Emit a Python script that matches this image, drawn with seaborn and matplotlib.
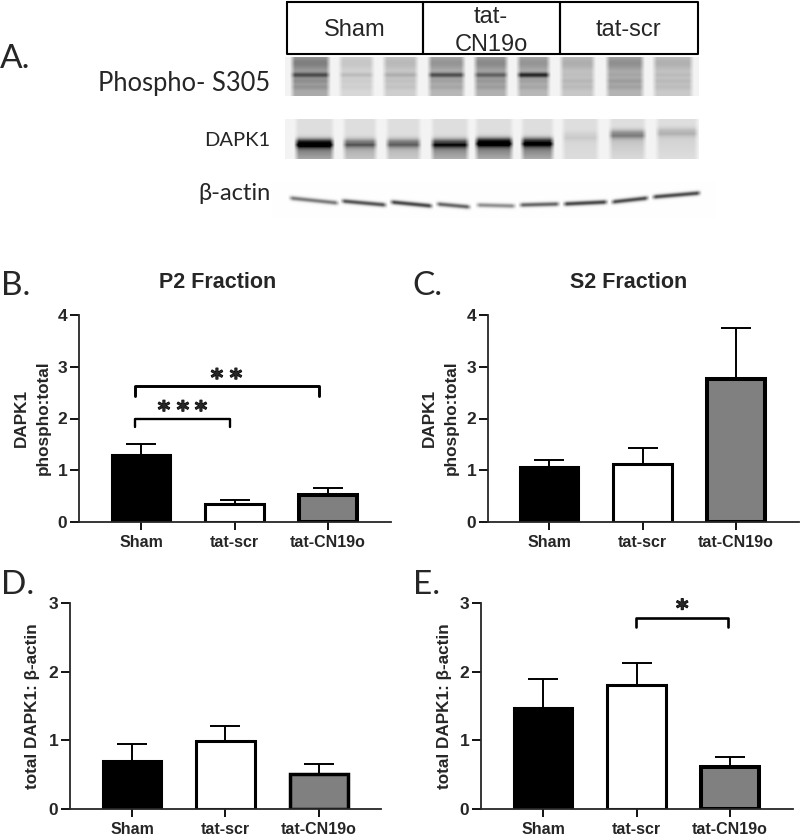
import numpy as np
import pandas as pd
import seaborn as sns
from matplotlib import pyplot as plt
import matplotlib.patheffects as pe

sns.set_style("ticks")
plt.rcParams['font.family'] = ['Liberation Sans', 'DejaVu Sans']

groups = ["Sham", "tat-scr", "tat-CN19o"]
fills = ["#000000", "#ffffff", "#808080"]

# bar heights and top of the error bars
p2_mean = [1.30, 0.34, 0.53]
p2_upper = [1.505, 0.43, 0.65]
s2_mean = [1.07, 1.12, 2.76]
s2_upper = [1.20, 1.43, 3.75]
d_mean = [0.70, 0.99, 0.51]
d_upper = [0.95, 1.21, 0.66]
e_mean = [1.47, 1.80, 0.61]
e_upper = [1.895, 2.13, 0.76]

# blot lanes, left to right
phospho_left = [292, 340, 384, 429, 475, 518, 561, 607, 654]
phospho_right = [329, 373, 417, 464, 507, 549, 594, 643, 692]
phospho_bg = [0.42, 0.16, 0.21, 0.34, 0.38, 0.34, 0.25, 0.36, 0.24]
phospho_band = [0.36, 0.10, 0.12, 0.40, 0.30, 0.55, 0.03, 0.05, 0.05]
dapk_left = [296, 344, 387, 432, 476, 522, 563, 610, 657]
dapk_right = [333, 376, 420, 468, 512, 553, 598, 645, 697]
dapk_band = [0.85, 0.42, 0.42, 0.62, 0.85, 0.75, 0.06, 0.33, 0.15]
dapk_smear = [0.42, 0.20, 0.16, 0.36, 0.42, 0.42, 0.03, 0.11, 0.05]
dapk_y = [143, 143, 143, 143, 142, 142, 136, 134, 132]
actin_left = [290, 342, 391, 437, 477, 520, 564, 612, 653]
actin_right = [338, 386, 432, 470, 515, 559, 607, 648, 700]
actin_y0 = [198, 201, 202, 204, 205, 205, 204, 202, 197]
actin_y1 = [203, 205, 206, 207, 206, 204, 202, 198, 193]
actin_band = [0.50, 0.65, 0.70, 0.58, 0.42, 0.58, 0.70, 0.68, 0.68]

W, H = 800, 835


def lane_mask(xx, left, right):
    return np.clip((xx - left + 2) / 5, 0, 1) * np.clip((right - xx + 2) / 5, 0, 1)


def gauss(yy, mid, sig):
    return np.exp(-((yy - mid) / sig) ** 2 / 2)


def show_strip(ax, dark, x0, x1, y0, y1):
    ax.imshow(1 - np.clip(dark, 0, 1), cmap="gray", vmin=0, vmax=1,
              extent=(x0, x1, y1, y0), aspect="auto", interpolation="bilinear")


fig = plt.figure(figsize=(W / 100, H / 100), dpi=100)
top = fig.add_axes([0, 0, 1, 1])

# phospho strip
xx, yy = np.meshgrid(np.arange(285, 699) + 0.5, np.arange(57, 96) + 0.5)
dark = np.full(xx.shape, 0.05)
for i in range(9):
    m = lane_mask(xx, phospho_left[i], phospho_right[i])
    prof = phospho_bg[i] * (0.68 + 0.4 * gauss(yy, 63, 5) + 0.25 * gauss(yy, 81, 2)
                            + 0.2 * gauss(yy, 87, 2))
    prof = prof + phospho_band[i] * gauss(yy, 75, 1.8)
    dark += m * prof
show_strip(top, dark, 285, 699, 57, 96)

# DAPK1 strip
xx, yy = np.meshgrid(np.arange(285, 699) + 0.5, np.arange(119, 159) + 0.5)
dark = np.full(xx.shape, 0.05)
for i in range(9):
    m = lane_mask(xx, dapk_left[i], dapk_right[i])
    below = np.clip((yy - dapk_y[i]) / 2, 0, 1) * (1.15 - 0.04 * (yy - dapk_y[i]))
    prof = 0.08 + dapk_band[i] * gauss(yy, dapk_y[i], 3.0) + dapk_smear[i] * below
    dark += m * prof
show_strip(top, dark, 285, 699, 119, 159)

# actin strip
xx, yy = np.meshgrid(np.arange(272, 716) + 0.5, np.arange(182, 218) + 0.5)
dark = np.full(xx.shape, 0.007)
for i in range(9):
    frac = (xx - actin_left[i]) / (actin_right[i] - actin_left[i])
    mid = actin_y0[i] + (actin_y1[i] - actin_y0[i]) * frac
    m = lane_mask(xx, actin_left[i], actin_right[i])
    dark += m * actin_band[i] * gauss(yy, mid, 1.6)
show_strip(top, dark, 272, 716, 182, 218)

top.set_xlim(0, W)
top.set_ylim(H, 0)
top.axis("off")

# header boxes
for x0, x1 in [(287, 423), (423, 560), (560, 698)]:
    top.plot([x0, x0, x1, x1, x0], [2, 54, 54, 2, 2], color="black", lw=1.5)
top.text(355, 30, "Sham", ha="center", va="center", fontsize=17)
top.text(491, 17, "tat-", ha="center", va="center", fontsize=17)
top.text(491, 45, "CN19o", ha="center", va="center", fontsize=17)
top.text(628, 30, "tat-scr", ha="center", va="center", fontsize=17)

side = ['Lato', 'DejaVu Sans']
top.text(270, 84, "Phospho- S305", ha="right", va="center", fontsize=18.4, family=side)
top.text(270, 141, "DAPK1", ha="right", va="center", fontsize=14.5, family=side)
top.text(271, 194, "β-actin", ha="right", va="center", fontsize=17, family=side)

for lab, x, y in [("A.", 0, 59), ("B.", 1, 286), ("C.", 412, 286), ("D.", 1, 585), ("E.", 413, 585)]:
    top.text(x, y, lab, ha="left", va="center", fontsize=24, family=side)
top.text(218, 283, "P2 Fraction", ha="center", va="center", fontsize=15.5, weight="bold")
top.text(629, 283, "S2 Fraction", ha="center", va="center", fontsize=15.5, weight="bold")


def bar_panel(axis_x, axis_end, y_top, y_zero, first, ymax, mean, upper, edge_cn=2.9):
    spacing = 93.5
    ah = fig.add_axes([axis_x / W, 1 - y_zero / H, (axis_end - axis_x) / W, (y_zero - y_top) / H])
    ah.patch.set_visible(False)
    data = pd.DataFrame({"group": groups, "value": mean})
    sns.barplot(data=data, x="group", y="value", hue="group", palette=dict(zip(groups, fills)),
                order=groups, hue_order=groups, dodge=False, legend=False, saturation=1, width=0.63,
                edgecolor="black", linewidth=2.2, errorbar=None, ax=ah)
    ah.patches[2].set_linewidth(edge_cn)
    xs = np.arange(3)
    ah.errorbar(xs, mean, yerr=[np.zeros(3), np.array(upper) - np.array(mean)], fmt="none",
                ecolor="black", elinewidth=1.4, capsize=11, capthick=1.4, zorder=1.5)
    ah.set_xlim(-(first - axis_x) / spacing, 2 + (axis_end - first - 2 * spacing) / spacing)
    ah.set_ylim(0, ymax)
    ah.set_yticks(range(ymax + 1))
    ah.set_xlabel("")
    ah.set_ylabel("")
    sns.despine(ax=ah)
    ah.spines["left"].set_linewidth(1.3)
    ah.spines["bottom"].set_linewidth(1.3)
    ah.tick_params(axis="both", length=6.5, width=1.3, direction="out", color="black")
    ah.tick_params(axis="x", labelsize=11.5, pad=3.5, length=6)
    ah.tick_params(axis="y", labelsize=12.5, pad=2)
    for t in ah.get_xticklabels() + ah.get_yticklabels():
        t.set_fontweight("bold")
    return ah


def bracket(ah, x0, x1, y_high, y_low, lw):
    ah.plot([x0, x0, x1, x1], [y_low, y_high, y_high, y_low], color="black", lw=lw,
            solid_joinstyle="round", clip_on=False)


def stars(ah, xs, y):
    for x in xs:
        ah.text(x, y, "*", ha="center", va="center", fontsize=17, weight="bold",
                family="DejaVu Sans", clip_on=False,
                path_effects=[pe.withStroke(linewidth=0.8, foreground="black")])


ab = bar_panel(79, 391, 315, 522, 141, 4, p2_mean, p2_upper)
bracket(ab, -0.064, 1.904, 2.62, 2.44, 2.1)
bracket(ab, -0.064, 0.952, 2.00, 1.83, 1.7)
stars(ab, [0.813, 1.016], 2.77)
stars(ab, [0.246, 0.449, 0.642], 2.15)

ac = bar_panel(488, 799, 315, 522, 549, 4, s2_mean, s2_upper)

ad = bar_panel(70, 381, 603, 809, 132, 3, d_mean, d_upper, edge_cn=2.5)

ae = bar_panel(481, 793, 603, 809, 543, 3, e_mean, e_upper)
bracket(ae, 0.995, 1.98, 2.78, 2.65, 1.9)
stars(ae, [1.49], 2.91)

# y axis titles
ylab = dict(ha="center", va="center", rotation=90, fontsize=12.3, weight="bold")
top.text(21, 418, "DAPK1", **ylab)
top.text(43, 418, "phospho:total", **ylab)
top.text(429, 418, "DAPK1", **ylab)
top.text(451, 418, "phospho:total", **ylab)
top.text(33, 706, "total DAPK1: β-actin", **ylab)
top.text(445, 706, "total DAPK1: β-actin", **ylab)

fig.savefig("out.png", dpi=100)
